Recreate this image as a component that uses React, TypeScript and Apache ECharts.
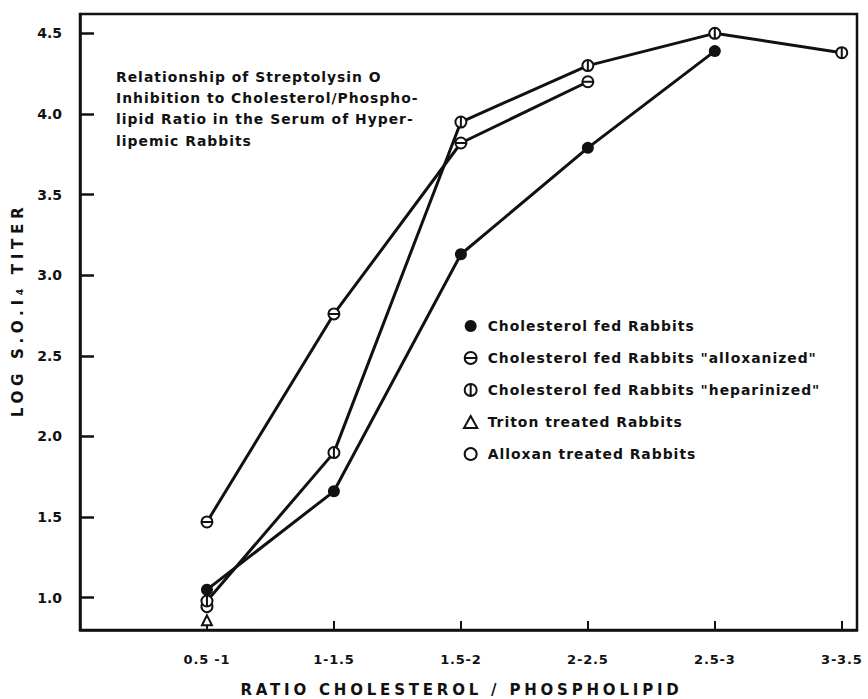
import React, { useEffect, useRef } from "react";
import * as echarts from "echarts";

const categories = ["0.5 -1", "1-1.5", "1.5-2", "2-2.5", "2.5-3", "3-3.5"];
const yTickValues = [1.0, 1.5, 2.0, 2.5, 3.0, 3.5, 4.0, 4.5];

const cholesterolFed = [1.05, 1.66, 3.13, 3.79, 4.39, null];
const alloxanized = [1.47, 2.76, 3.82, 4.2, null, null];
const heparinized = [0.98, 1.9, 3.95, 4.3, 4.5, 4.38];
const triton = [0.86, null, null, null, null, null];
const alloxan = [0.945, null, null, null, null, null];

const seriesNames = [
  "Cholesterol fed Rabbits",
  'Cholesterol fed Rabbits "alloxanized"',
  'Cholesterol fed Rabbits "heparinized"',
  "Triton treated Rabbits",
  "Alloxan treated Rabbits",
];

const titleText =
  "Relationship of Streptolysin O\nInhibition to Cholesterol/Phospho-\nlipid Ratio in the Serum of Hyper-\nlipemic Rabbits";

const FONT = "DejaVu Sans";
const INK = "#111";

const ringH = "path://M10,0 A10,10 0 1,1 10,20 A10,10 0 1,1 10,0 Z M0,10 L20,10";
const ringV = "path://M10,0 A10,10 0 1,1 10,20 A10,10 0 1,1 10,0 Z M10,0 L10,20";
const tri = "path://M10,0 L20,18 L0,18 Z";

function toPoints(values: (number | null)[]) {
  return values
    .map((v, i) => (v == null ? null : [i + 1, v]))
    .filter((p) => p !== null) as number[][];
}

const openStyle = { color: "#fff", borderColor: INK, borderWidth: 2, opacity: 1 };

const css = `
#chart-root text[style*="13.9px"] { letter-spacing: 1px; }
#chart-root text[style*="13px"] { letter-spacing: 0.8px; }
#chart-root text[style*="15px"] { letter-spacing: 3.8px; }
#chart-root text[style*="15.2px"] { letter-spacing: 4.6px; }
`;

export default function App() {
  const ref = useRef<HTMLDivElement>(null);

  useEffect(() => {
    if (!ref.current) return;
    const chart = echarts.init(ref.current, null, { renderer: "svg" });
    const catTicks = categories.map((_, i) => i + 1);

    chart.setOption({
      animation: false,
      backgroundColor: "#fff",
      title: {
        text: titleText,
        left: 111,
        top: 61,
        textStyle: {
          fontFamily: FONT,
          fontSize: 13.9,
          fontWeight: "bold",
          color: INK,
          lineHeight: 21.3,
        },
      },
      grid: {
        left: 80,
        right: 11,
        top: 14,
        bottom: 69,
        outerBoundsMode: "none",
        containLabel: false,
        show: true,
        borderColor: INK,
        borderWidth: 2.5,
        backgroundColor: "transparent",
      },
      legend: {
        orient: "vertical",
        left: 458,
        top: 314,
        itemWidth: 24,
        itemHeight: 12,
        itemGap: 18,
        symbolKeepAspect: true,
        textStyle: {
          fontFamily: FONT,
          fontSize: 13.9,
          fontWeight: "bold",
          color: INK,
        },
        data: [
          { name: seriesNames[0], icon: "circle", itemStyle: { color: INK, borderWidth: 0 } },
          { name: seriesNames[1], icon: ringH, itemStyle: openStyle },
          { name: seriesNames[2], icon: ringV, itemStyle: openStyle },
          { name: seriesNames[3], icon: tri, itemStyle: openStyle },
          { name: seriesNames[4], icon: "circle", itemStyle: openStyle },
        ],
      },
      xAxis: {
        type: "value",
        min: 0,
        max: 6.12,
        name: "RATIO CHOLESTEROL / PHOSPHOLIPID",
        nameLocation: "middle",
        nameGap: 52,
        nameTextStyle: {
          fontFamily: FONT,
          fontSize: 15,
          fontWeight: "bold",
          color: INK,
          padding: [0, 14, 0, 0],
        },
        axisLine: { show: true, lineStyle: { color: INK, width: 2.5 } },
        axisTick: {
          show: true,
          inside: true,
          length: 9,
          lineStyle: { color: INK, width: 2 },
          customValues: catTicks,
        },
        axisLabel: {
          customValues: catTicks,
          margin: 23,
          fontFamily: FONT,
          fontSize: 13,
          fontWeight: "bold",
          color: INK,
          formatter: (v: number) => categories[Math.round(v) - 1] ?? "",
        },
        splitLine: { show: false },
      },
      yAxis: {
        type: "value",
        min: 0.8,
        max: 4.62,
        name: "LOG S.O.I₄ TITER",
        nameLocation: "middle",
        nameGap: 55,
        nameRotate: 90,
        nameTextStyle: {
          fontFamily: FONT,
          fontSize: 15.2,
          fontWeight: "bold",
          color: INK,
          padding: [0, 0, 0, 24],
        },
        axisLine: { show: true, lineStyle: { color: INK, width: 2.5 } },
        axisTick: {
          show: true,
          inside: true,
          length: 14,
          lineStyle: { color: INK, width: 2.5 },
          customValues: yTickValues,
        },
        axisLabel: {
          customValues: yTickValues,
          margin: 18,
          fontFamily: FONT,
          fontSize: 14,
          fontWeight: "bold",
          color: INK,
          formatter: (v: number) => v.toFixed(1),
        },
        splitLine: { show: false },
      },
      series: [
        {
          name: seriesNames[3],
          type: "scatter",
          data: toPoints(triton),
          symbol: tri,
          symbolSize: 10,
          itemStyle: openStyle,
          z: 3,
        },
        {
          name: seriesNames[4],
          type: "scatter",
          data: toPoints(alloxan),
          symbol: "circle",
          symbolSize: 11,
          itemStyle: openStyle,
          z: 3,
        },
        {
          name: seriesNames[1],
          type: "line",
          data: toPoints(alloxanized),
          symbol: ringH,
          symbolSize: 11,
          showAllSymbol: true,
          itemStyle: openStyle,
          lineStyle: { color: INK, width: 3 },
          z: 4,
        },
        {
          name: seriesNames[2],
          type: "line",
          data: toPoints(heparinized),
          symbol: ringV,
          symbolSize: 11,
          showAllSymbol: true,
          itemStyle: openStyle,
          lineStyle: { color: INK, width: 3 },
          z: 5,
        },
        {
          name: seriesNames[0],
          type: "line",
          data: toPoints(cholesterolFed),
          symbol: "circle",
          symbolSize: 12,
          showAllSymbol: true,
          itemStyle: { color: INK, borderWidth: 0 },
          lineStyle: { color: INK, width: 3 },
          z: 6,
        },
      ],
    });

    return () => chart.dispose();
  }, []);

  return (
    <>
      <style>{css}</style>
      <div
        id="chart-root"
        ref={ref}
        style={{ position: "absolute", left: 0, top: 0, width: 868, height: 699 }}
      />
    </>
  );
}
